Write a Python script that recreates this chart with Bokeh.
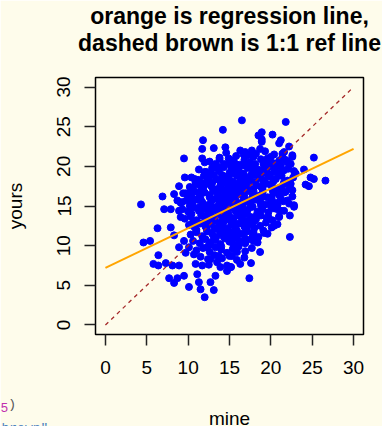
import math
from bokeh.plotting import figure
from bokeh.models import Range1d, Title, FixedTicker
from bokeh.embed import file_html
from bokeh.resources import INLINE

# ---- data -----------------------------------------------------------------
mine = [
    # upper-left fringe
    14.2, 11.8, 13.1, 14.5, 9.5, 11.7, 12.0, 13.8, 13.3, 12.9, 14.3, 15.1, 12.0, 9.6, 10.8, 10.9,
    12.3, 13.4, 8.9, 11.9, 10.3, 9.7, 8.3, 6.9, 11.5, 8.7, 9.3, 10.5, 4.3, 7.1, 7.9, 13.7,
    # upper-right fringe
    16.5, 21.8, 18.9, 18.5, 20.2, 18.9, 21.2, 21.0, 22.2, 16.3, 17.7, 18.7, 16.7, 17.9, 19.6, 20.0,
    21.4, 22.6, 25.2, 21.8, 19.1, 20.2, 21.2, 22.4, 15.7, 17.1, 24.0, 23.0, 24.8, 25.2, 26.6, 24.2,
    24.6, 22.4, 21.6, 20.4, 19.6, 22.6, 21.6, 21.2, 22.0, 20.8, 22.8, 20.0,
    # lower-left fringe
    6.3, 4.6, 5.4, 6.4, 5.8, 6.4, 7.3, 8.1, 8.9, 8.9, 9.1, 7.9, 8.3, 9.5, 8.9, 9.7, 10.7, 10.9, 11.7,
    11.1, 9.5, 7.7, 8.7, 8.3, 11.3, 10.1, 11.5, 12.7, 13.3, 13.1, 12.0, 13.9, 14.7, 14.7, 12.7, 13.7,
    12.3, 10.1,
    # lower-right fringe
    22.3, 18.7, 17.6, 17.4, 22.3, 22.8, 19.1, 19.6, 20.4, 20.8, 17.9, 17.9, 16.9, 15.9, 15.3, 15.1,
    19.7, 21.0, 21.6, 20.8,
    11.7, 14.9, 18.9, 19.7, 21.4, 22.6,
    # dense core
    14.6, 15.8, 16.9, 17.4, 18.2, 19.3, 20.4, 21.6,
    12.6, 13.8, 14.9, 15.5, 16.2, 16.8, 17.5, 18.1, 18.8, 19.5, 20.3, 21.0, 22.0,
    11.3, 12.2, 13.0, 13.7, 14.3, 15.0, 15.6, 16.1, 16.7, 17.2, 17.8, 18.4, 19.0, 19.7, 20.5, 21.2, 22.1, 22.8,
    10.4, 11.2, 11.9, 12.5, 13.1, 13.8, 14.4, 14.9, 15.4, 15.9, 16.4, 16.9, 17.5, 18.0, 18.6, 19.2, 19.9, 20.6, 21.3, 22.0, 22.7,
    10.2, 10.9, 11.6, 12.2, 12.8, 13.4, 13.9, 14.4, 14.8, 15.3, 15.8, 16.3, 16.8, 17.2, 17.7, 18.3, 18.9, 19.5, 20.1, 20.8, 21.5, 22.3,
    9.4, 10.1, 10.8, 11.4, 12.0, 12.6, 13.1, 13.6, 14.1, 14.5, 15.0, 15.4, 15.9, 16.4, 16.8, 17.3, 17.8, 18.4, 19.0, 19.6, 20.3, 21.0, 21.8, 22.6,
    9.1, 9.8, 10.5, 11.1, 11.7, 12.3, 12.8, 13.3, 13.8, 14.2, 14.7, 15.1, 15.6, 16.0, 16.5, 17.0, 17.5, 18.1, 18.7, 19.3, 20.0, 20.7, 21.5, 22.2,
    9.3, 10.0, 10.7, 11.3, 11.9, 12.4, 12.9, 13.4, 13.9, 14.3, 14.8, 15.2, 15.7, 16.2, 16.7, 17.2, 17.8, 18.4, 19.0, 19.7, 20.4, 21.2,
    9.6, 10.3, 11.0, 11.6, 12.2, 12.7, 13.2, 13.7, 14.2, 14.6, 15.1, 15.5, 16.0, 16.5, 17.0, 17.6, 18.2, 18.8, 19.5, 20.2, 21.0,
    10.1, 10.8, 11.5, 12.1, 12.7, 13.2, 13.7, 14.2, 14.7, 15.2, 15.7, 16.2, 16.8, 17.4, 18.0, 18.7, 19.4, 20.1,
    10.3, 11.0, 11.7, 12.3, 12.9, 13.4, 13.9, 14.4, 14.9, 15.4, 15.9, 16.5, 17.1, 17.8, 18.5, 19.2,
    10.6, 11.4, 12.1, 12.7, 13.3, 13.9, 14.5, 15.0, 15.6, 16.2, 16.9, 17.6, 18.4,
    11.0, 11.8, 12.6, 13.3, 14.0, 14.7, 15.4, 16.1, 16.9, 17.7,
    11.5, 12.4, 13.2, 14.1, 15.0, 15.9, 16.8,
    12.5, 13.5, 15.2, 16.3,
    # dense core, second layer
    13.5, 15.2, 16.5, 17.9, 19.2, 20.7,
    12.7, 14.1, 15.3, 16.5, 17.6, 18.7, 19.8, 21.0,
    11.5, 12.9, 14.1, 15.1, 16.1, 17.0, 18.0, 19.1, 20.3, 21.6,
    10.6, 11.8, 13.0, 14.2, 15.1, 16.0, 16.9, 17.9, 19.0, 20.2, 21.4,
    10.3, 11.5, 12.6, 13.7, 14.8, 15.7, 16.7, 17.7, 18.9, 20.1,
    10.2, 11.4, 12.5, 13.6, 14.6, 15.6, 16.6, 17.6, 18.8, 20.0,
    10.4, 11.6, 12.7, 13.8, 14.9, 16.0, 17.1, 18.3,
    10.6, 11.9, 13.1, 14.3, 15.5, 16.7, 17.9,
    11.0, 12.3, 13.5, 14.7, 15.9, 17.1,
    11.8, 13.1, 14.3, 15.6, 16.9,
    12.5, 14.0, 15.5,
]
yours = [
    24.6, 23.3, 22.3, 22.4, 21.0, 21.0, 20.5, 21.1, 20.3, 19.8, 20.3, 20.8, 19.3, 18.6, 18.4, 18.0,
    18.1, 18.4, 17.5, 17.5, 16.7, 16.6, 16.5, 16.2, 16.7, 15.7, 15.5, 16.0, 15.2, 14.6, 14.6, 15.9,
    25.8, 25.6, 24.3, 23.9, 24.0, 23.4, 23.3, 22.9, 22.5, 22.0, 22.0, 22.2, 21.5, 21.2, 21.0, 21.2,
    21.6, 21.4, 21.1, 20.8, 20.3, 20.1, 20.1, 20.3, 20.3, 20.1, 19.6, 19.1, 18.6, 18.4, 18.2, 17.7,
    17.5, 17.8, 19.5, 19.3, 19.1, 17.0, 16.7, 15.9, 15.7, 15.1, 15.1, 15.3,
    12.2, 10.4, 10.6, 8.8, 7.7, 7.5, 7.8, 7.5, 7.5, 14.4, 13.6, 12.3, 11.3, 10.6, 9.8, 9.1, 8.9, 7.7, 7.5,
    6.4, 6.2, 5.9, 5.9, 5.3, 5.4, 4.8, 4.5, 5.4, 6.2, 4.4, 3.5, 7.3, 6.8, 7.5, 8.3, 8.7,
    9.8, 9.8,
    11.1, 9.2, 7.8, 5.9, 13.8, 14.9, 11.9, 11.5, 12.5, 12.7, 11.7, 10.6, 10.4, 9.2, 8.7, 7.3,
    13.6, 13.6, 14.4, 14.6,
    22.2, 21.0, 23.1, 20.8, 21.2, 21.2,
    21.7, 21.3, 21.8, 21.4, 21.6, 21.9, 21.5, 21.8,
    20.6, 20.9, 20.4, 20.7, 20.2, 20.8, 20.5, 20.3, 20.9, 20.6, 20.4, 20.7, 20.5,
    19.6, 19.3, 19.8, 19.4, 19.9, 19.2, 19.7, 19.5, 19.1, 19.8, 19.4, 19.6, 19.2, 19.9, 19.5, 19.3, 19.7, 19.4,
    18.6, 18.3, 18.8, 18.4, 18.9, 18.2, 18.7, 18.5, 18.1, 18.8, 18.4, 18.6, 18.2, 18.9, 18.5, 18.3, 18.7, 18.4, 18.8, 18.2, 18.6,
    17.4, 17.7, 17.2, 17.8, 17.5, 17.1, 17.6, 17.9, 17.3, 17.7, 17.2, 17.5, 17.8, 17.4, 17.1, 17.6, 17.3, 17.8, 17.5, 17.2, 17.7, 17.4,
    16.6, 16.3, 16.8, 16.2, 16.7, 16.4, 16.9, 16.5, 16.1, 16.7, 16.3, 16.8, 16.4, 16.6, 16.2, 16.9, 16.5, 16.3, 16.7, 16.1, 16.6, 16.4, 16.8, 16.2,
    15.4, 15.7, 15.2, 15.8, 15.5, 15.1, 15.6, 15.9, 15.3, 15.7, 15.2, 15.5, 15.8, 15.4, 15.1, 15.6, 15.3, 15.8, 15.5, 15.2, 15.7, 15.4, 15.6, 15.3,
    14.6, 14.3, 14.8, 14.4, 14.7, 14.2, 14.9, 14.5, 14.1, 14.6, 14.3, 14.8, 14.4, 14.7, 14.2, 14.5, 14.9, 14.3, 14.6, 14.2, 14.7, 14.4,
    13.4, 13.7, 13.2, 13.8, 13.5, 13.1, 13.6, 13.9, 13.3, 13.7, 13.2, 13.5, 13.8, 13.4, 13.1, 13.6, 13.3, 13.8, 13.5, 13.2, 13.7,
    12.6, 12.3, 12.8, 12.4, 12.7, 12.2, 12.9, 12.5, 12.1, 12.6, 12.3, 12.8, 12.4, 12.7, 12.2, 12.5, 12.9, 12.3,
    11.4, 11.7, 11.2, 11.8, 11.5, 11.1, 11.6, 11.9, 11.3, 11.7, 11.2, 11.5, 11.8, 11.4, 11.1, 11.6,
    10.6, 10.3, 10.8, 10.4, 10.7, 10.2, 10.9, 10.5, 10.1, 10.6, 10.3, 10.8, 10.4,
    9.4, 9.7, 9.2, 9.8, 9.5, 9.1, 9.6, 9.9, 9.3, 9.7,
    8.6, 8.3, 8.8, 8.4, 8.7, 8.2, 8.5,
    7.6, 7.9, 7.3, 7.7,
    20.0, 19.9, 20.1, 20.0, 19.9, 20.1,
    19.0, 18.9, 19.1, 19.0, 18.9, 19.1, 19.0, 18.9,
    18.0, 17.9, 18.1, 18.0, 17.9, 18.1, 18.0, 17.9, 18.1, 18.0,
    17.0, 16.9, 17.1, 17.0, 16.9, 17.1, 17.0, 16.9, 17.1, 17.0, 16.9,
    16.0, 15.9, 16.1, 16.0, 15.9, 16.1, 16.0, 15.9, 16.1, 16.0,
    15.0, 14.9, 15.1, 15.0, 14.9, 15.1, 15.0, 14.9, 15.1, 15.0,
    14.0, 13.9, 14.1, 14.0, 13.9, 14.1, 14.0, 13.9,
    13.0, 12.9, 13.1, 13.0, 12.9, 13.1, 13.0,
    12.0, 11.9, 12.1, 12.0, 11.9, 12.1,
    11.0, 10.9, 11.1, 11.0, 10.9,
    10.0, 9.9, 10.1,
]
assert len(mine) == len(yours)

reg_intercept = 7.2
reg_slope = 0.5
line_x = [0, 30]
ticks = [0, 5, 10, 15, 20, 25, 30]
title_lines = ["orange is regression line,", "dashed brown is 1:1 ref line"]
x_label = "mine"
y_label = "yours"

# ---- figure ----------------------------------------------------------------
BG = "#FEFCEB"
FONT = "Liberation Sans"
MONO = "Liberation Mono"
p = figure(width=382, height=426, output_backend="svg", toolbar_location=None,
           x_range=Range1d(-1.2, 31.2), y_range=Range1d(-1.2, 31.2),
           min_border_left=95, min_border_right=19, min_border_top=77,
           min_border_bottom=92)
p.title = None
p.background_fill_color = BG
p.border_fill_color = BG
p.outline_line_color = "black"
p.outline_line_width = 1.5
p.grid.visible = False

# title: second line closest to the frame, first line above it
p.add_layout(Title(text=title_lines[1], align="center", text_font=FONT,
                   text_font_style="bold", text_font_size="23px",
                   text_color="black", standoff=44), "above")
p.add_layout(Title(text=title_lines[0], align="center", text_font=FONT,
                   text_font_style="bold", text_font_size="23px",
                   text_color="black", standoff=-47), "above")

for ax in (p.xaxis[0], p.yaxis[0]):
    ax.ticker = FixedTicker(ticks=ticks)
    ax.axis_line_color = None
    ax.major_tick_in = 0
    ax.major_tick_out = 11
    ax.major_tick_line_color = "#222222"
    ax.major_tick_line_width = 1.5
    ax.minor_tick_line_color = None
    ax.major_label_text_font = FONT
    ax.major_label_text_font_size = "19px"
    ax.major_label_text_color = "black"
    ax.axis_label_text_font = FONT
    ax.axis_label_text_font_size = "19px"
    ax.axis_label_text_font_style = "normal"
    ax.axis_label_text_color = "black"
p.xaxis[0].major_label_standoff = 15
p.yaxis[0].major_label_standoff = 14
p.yaxis[0].major_label_orientation = "vertical"
p.yaxis[0].axis_label = y_label
p.yaxis[0].axis_label_standoff = 29

p.scatter(mine, yours, size=7, color="blue", line_color="blue")
p.line(line_x, line_x, color="#A52A2A", line_width=1.3, line_dash="4 4")
p.line(line_x, [reg_intercept + reg_slope * v for v in line_x], color="#FFA500", line_width=2)

# x label and a fragment of code visible at the lower-left corner of the page
p.add_layout(Title(text=x_label, align="center", standoff=-105,
                   text_font=FONT, text_font_size="19px", text_font_style="normal",
                   text_color="black"), "below")
p.add_layout(Title(text="5", align="left", offset=-95, standoff=-71,
                   text_font=MONO, text_font_size="13px", text_font_style="normal",
                   text_color="#C030B0"), "below")
p.add_layout(Title(text=")", align="left", offset=-87.2, standoff=-71,
                   text_font=MONO, text_font_size="13px", text_font_style="normal",
                   text_color="#555555"), "below")
p.add_layout(Title(text='brown"', align="left", offset=-94, standoff=-119,
                   text_font=MONO, text_font_size="13px", text_font_style="normal",
                   text_color="#4A80C0"), "below")

open("out.html", "w").write(file_html(p, INLINE))
